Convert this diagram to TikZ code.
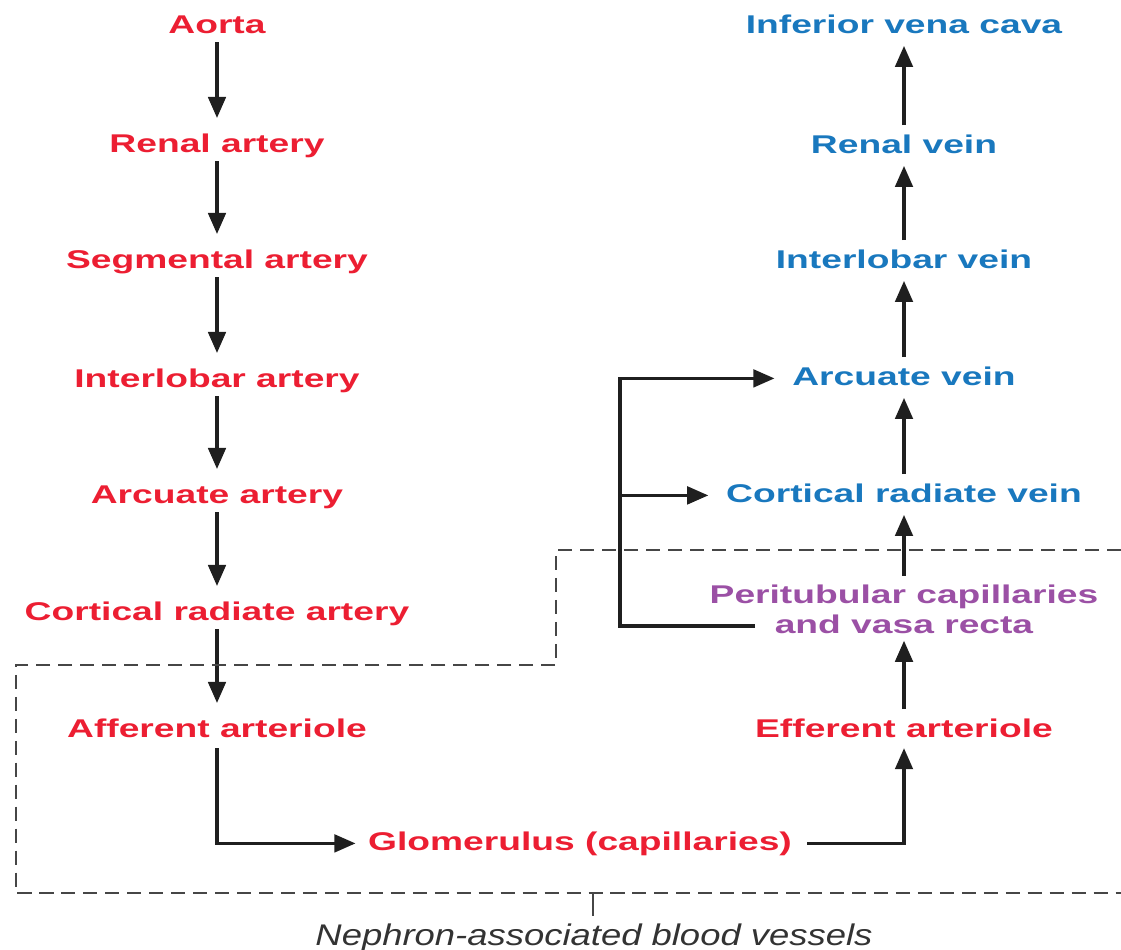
\documentclass[tikz,border=0pt]{standalone}
\usepackage{fontspec}
\usepackage{tikz}
\usetikzlibrary{arrows.meta}
\newfontfamily\labfont[FakeStretch=1.45]{Liberation Sans}
\newfontfamily\notefont[FakeStretch=1.22]{Liberation Sans}
\definecolor{artred}{RGB}{236,30,50}
\definecolor{veinblue}{RGB}{25,120,190}
\definecolor{capviolet}{RGB}{155,80,165}
\definecolor{boxgray}{RGB}{70,70,70}
\tikzset{%
  lab/.style = {font=\labfont\bfseries\fontsize{14.6}{17}\selectfont,
        inner sep=0pt},
  v/.style = {lab, text height=10.8pt, text depth=3pt},
  art/.style = {v, text=artred},
  vein/.style = {v, text=veinblue},
  capl/.style = {lab, text=capviolet, align=center},
  flow/.style = {-{Triangle[length=12pt,width=10pt]}, line width=1.8pt,
        draw=black!88},
  downarrow/.style = {flow, shorten <=2pt, shorten >=8.5pt},
  uparrow/.style = {flow, shorten <=5pt, shorten >=4pt},
  nbox/.style = {draw=boxgray, line width=1.6pt, dash pattern=on 8pt off 4.5pt}
}

\begin{document}
\begin{tikzpicture}[x=0.02cm, y=-0.02cm]
\useasboundingbox (0,0) rectangle (1121,949);
\node[art] (aorta) at (217,26.4) {Aorta};
\node[art] (renart) at (217,145.4) {Renal artery};
\node[art] (segart) at (217,261.4) {Segmental artery};
\node[art] (ilart) at (217,380.4) {Interlobar artery};
\node[art] (arcart) at (217,496.4) {Arcuate artery};
\node[art] (crart) at (217,613.4) {Cortical radiate artery};
\node[art] (affart) at (217,730.4) {Afferent arteriole};
\node[art] (glom) at (580,843.4) {Glomerulus (capillaries)};
\node[art] (effart) at (904,730.4) {Efferent arteriole};
\node[capl] (peri) at (904,609) {Peritubular capillaries\\and vasa recta};
\node[vein] (crvein) at (904,495.4) {Cortical radiate vein};
\node[vein] (arcvein) at (904,378.4) {Arcuate vein};
\node[vein] (ilvein) at (904,261.4) {Interlobar vein};
\node[vein] (renvein) at (904,146.4) {Renal vein};
\node[vein] (ivc) at (904,26.4) {Inferior vena cava};
\node[font=\notefont\itshape\fontsize{17}{20}\selectfont, text=black!80,
      inner sep=0pt, anchor=base] (neph) at (594,945) {Nephron-associated blood vessels};

\draw[downarrow] (aorta) -- (renart);
\draw[downarrow] (renart) -- (segart);
\draw[downarrow] (segart) -- (ilart);
\draw[downarrow] (ilart) -- (arcart);
\draw[downarrow] (arcart) -- (crart);
\draw[downarrow] (crart) -- (affart);
\draw[flow, shorten <=3pt, shorten >=7pt] (affart) |- (glom);
\draw[flow, shorten <=8.5pt, shorten >=3pt] (glom) -| (effart);
\draw[uparrow] (effart) -- (peri);
\draw[uparrow] (peri) -- (crvein);
\draw[uparrow] (crvein) -- (arcvein);
\draw[uparrow] (arcvein) -- (ilvein);
\draw[uparrow] (ilvein) -- (renvein);
\draw[uparrow] (renvein) -- (ivc);

\coordinate (perileft) at (755,626);
\coordinate (bend) at (620,626);
\draw[flow, shorten >=10pt] (perileft) -- (bend) |- (arcvein);
\draw[flow, shorten >=10pt] (bend |- crvein) -- (crvein);

\draw[nbox] (1121,550) -- (556,550) -- (556,665) -- (16,665) -- (16,893) -- (1121,893);
\coordinate (tick) at (593,893);
\draw[boxgray, line width=1.2pt, shorten >=4pt] (tick) -- (tick |- neph.north);
\end{tikzpicture}
\end{document}
